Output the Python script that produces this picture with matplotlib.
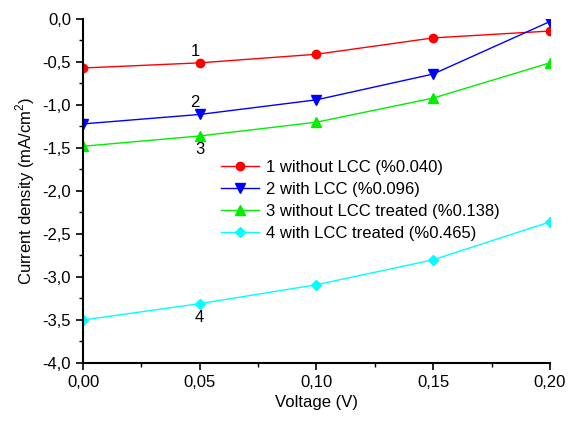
import matplotlib
matplotlib.use('Agg')
import matplotlib.pyplot as plt
from matplotlib.ticker import FuncFormatter, MultipleLocator

plt.rcParams['font.family'] = ['Liberation Sans', 'DejaVu Sans']
plt.rcParams['mathtext.fontset'] = 'custom'
plt.rcParams['mathtext.rm'] = 'Liberation Sans'

voltage = [0.00, 0.05, 0.10, 0.15, 0.20]
s1 = [-0.57, -0.51, -0.41, -0.22, -0.14]
s2 = [-1.22, -1.11, -0.94, -0.64, -0.03]
s3 = [-1.48, -1.36, -1.20, -0.92, -0.51]
s4 = [-3.50, -3.31, -3.09, -2.80, -2.36]
labels = ['1 without LCC (%0.040)', '2 with LCC (%0.096)',
          '3 without LCC treated (%0.138)', '4 with LCC treated (%0.465)']

fig = plt.figure(figsize=(5.74, 4.21), dpi=100)
ax = fig.add_axes([0.1446, 0.1378, 0.8134, 0.8171])

ax.plot(voltage, s1, color='red', marker='o', ms=6, lw=1, label=labels[0])
ax.plot(voltage, s2, color='blue', marker='v', ms=7, lw=1, label=labels[1])
ax.plot(voltage, s3, color='#00ee00', marker='^', ms=7, lw=1, label=labels[2])
ax.plot(voltage, s4, color='cyan', marker='D', ms=5, lw=1, label=labels[3])

# curve numbers
ax.text(0.048, s1[1] + 0.05, '1', fontsize=12, ha='center', va='bottom')
ax.text(0.048, s2[1] + 0.05, '2', fontsize=12, ha='center', va='bottom')
ax.text(0.05, s3[1] - 0.07, '3', fontsize=12, ha='center', va='top')
ax.text(0.05, s4[1] - 0.07, '4', fontsize=12, ha='center', va='top')

ax.set_xlim(0, 0.2)
ax.set_ylim(-4.0, 0.0)
ax.xaxis.set_major_locator(MultipleLocator(0.05))
ax.xaxis.set_minor_locator(MultipleLocator(0.025))
ax.yaxis.set_major_locator(MultipleLocator(0.5))
ax.yaxis.set_minor_locator(MultipleLocator(0.25))
ax.xaxis.set_major_formatter(FuncFormatter(lambda v, p: f'{v:.2f}'.replace('.', ',')))
ax.yaxis.set_major_formatter(FuncFormatter(lambda v, p: f'{v:.1f}'.replace('.', ',')))
ax.tick_params(labelsize=12, width=1.2, length=5)
ax.tick_params(which='minor', width=1, length=3)

for s in ['top', 'right']:
    ax.spines[s].set_visible(False)
for s in ['left', 'bottom']:
    ax.spines[s].set_linewidth(1.5)

ax.set_xlabel('Voltage (V)', fontsize=12)
ax.set_ylabel('Current density (mA/cm$^2$)', fontsize=12)

ax.legend(loc='upper left', bbox_to_anchor=(0.27, 0.625), frameon=False,
          fontsize=12, handlelength=2.3, labelspacing=0.42, borderpad=0.2,
          handletextpad=0.4)

fig.savefig('out.png', dpi=100)
